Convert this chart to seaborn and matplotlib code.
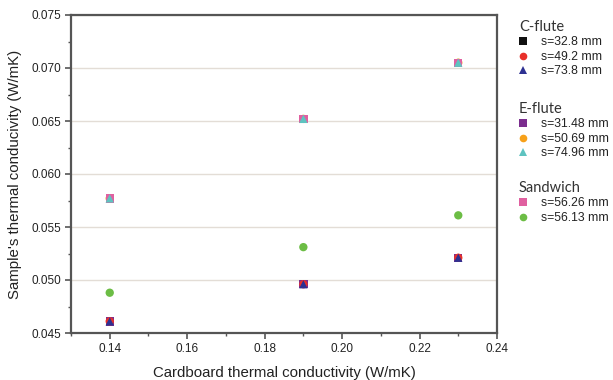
import matplotlib
matplotlib.use("Agg")
import matplotlib.pyplot as plt
import seaborn as sns
import pandas as pd
from matplotlib.lines import Line2D
from matplotlib.ticker import MultipleLocator, FormatStrFormatter

sns.set_theme(style="white")
plt.rcParams['font.family'] = ['Liberation Sans', 'DejaVu Sans']
plt.rcParams['font.sans-serif'] = ['Liberation Sans', 'DejaVu Sans']
FAM = ['Liberation Sans', 'DejaVu Sans']

x_vals = [0.14, 0.19, 0.23]

groups = ["C-flute", "C-flute", "C-flute", "E-flute", "E-flute", "E-flute", "Sandwich", "Sandwich"]
labels = ["s=32.8 mm", "s=49.2 mm", "s=73.8 mm",
          "s=31.48 mm", "s=50.69 mm", "s=74.96 mm",
          "s=56.26 mm", "s=56.13 mm"]
markers = ["s", "o", "^", "s", "o", "^", "s", "o"]
colors = ["#111111", "#e8302a", "#2e3192", "#7b2d8e", "#f7a11a", "#5ec3c0", "#e060a0", "#6cbd45"]

y_c328 = [0.0461, 0.0496, 0.0521]
y_c492 = [0.0461, 0.0496, 0.0521]
y_c738 = [0.0461, 0.0496, 0.0521]
y_e3148 = [0.0461, 0.0496, 0.0521]
y_e5069 = [0.0577, 0.0652, 0.0705]
y_e7496 = [0.0577, 0.0652, 0.0705]
y_s5626 = [0.0577, 0.0652, 0.0705]
y_s5613 = [0.0488, 0.0531, 0.0561]
series_y = [y_c328, y_c492, y_c738, y_e3148, y_e5069, y_e7496, y_s5626, y_s5613]

draw_order = [0, 3, 1, 2, 4, 6, 5, 7]

fig = plt.figure(figsize=(6.13, 3.80), dpi=100)
ax = fig.add_axes([71/613, 1-333/380, (497-71)/613, (333-15)/380])

for i in draw_order:
    df = pd.DataFrame({"x": x_vals, "y": series_y[i]})
    sns.scatterplot(data=df, x="x", y="y", ax=ax, marker=markers[i], color=colors[i],
                    s=36, edgecolor="none", linewidth=0, zorder=3, legend=False)

ax.set_xlim(0.13, 0.24)
ax.set_ylim(0.045, 0.075)
ax.xaxis.set_major_locator(MultipleLocator(0.02))
ax.xaxis.set_minor_locator(MultipleLocator(0.01))
ax.yaxis.set_major_locator(MultipleLocator(0.005))
ax.yaxis.set_minor_locator(MultipleLocator(0.0025))
ax.xaxis.set_major_formatter(FormatStrFormatter("%.2f"))
ax.yaxis.set_major_formatter(FormatStrFormatter("%.3f"))
ax.grid(axis="y", which="major", color="#e3ddd6", linewidth=1.0)
ax.set_axisbelow(True)
for sp in ax.spines.values():
    sp.set_color("#555555")
    sp.set_linewidth(1.6)
ax.tick_params(axis="both", which="major", direction="out", length=4, width=1.2,
               color="#555555", labelsize=8.5, labelcolor="#222222", pad=3, bottom=True, left=True)
ax.tick_params(axis="both", which="minor", direction="out", length=2.5, width=1.0,
               color="#555555", bottom=True, left=True)
for t in ax.get_xticklabels() + ax.get_yticklabels():
    t.set_fontfamily(FAM)
ax.set_xlabel("Cardboard thermal conductivity (W/mK)", fontsize=10.8, color="#222222",
              labelpad=8, fontfamily=FAM)
ax.set_ylabel("Sample's thermal conducivity (W/mK)", fontsize=10.8, color="#222222",
              labelpad=7, fontfamily=FAM)

# Grouped legends
group_names = ["C-flute", "E-flute", "Sandwich"]
tops = [1-20/380, 1-102/380, 1-181/380]
for g, top in zip(group_names, tops):
    idx = [i for i in range(len(labels)) if groups[i] == g]
    handles = [Line2D([], [], linestyle="none", marker=markers[i], color=colors[i],
                      markersize=5.5, markeredgewidth=0) for i in idx]
    leg = fig.legend(handles, [labels[i] for i in idx], loc="upper left",
                     bbox_to_anchor=(519/613, top), frameon=False,
                     prop={'family': FAM, 'size': 8.8},
                     title=g, alignment="left", handlelength=0.65, handletextpad=1.15,
                     labelspacing=0.2, borderpad=0, borderaxespad=0)
    leg.get_title().set_fontfamily(["Lato", "DejaVu Sans"])
    leg.get_title().set_fontsize(10.5)
    leg.get_title().set_color("#333333")
    for t in leg.get_texts():
        t.set_color("#222222")

fig.savefig("out.png", dpi=100, facecolor="white")
